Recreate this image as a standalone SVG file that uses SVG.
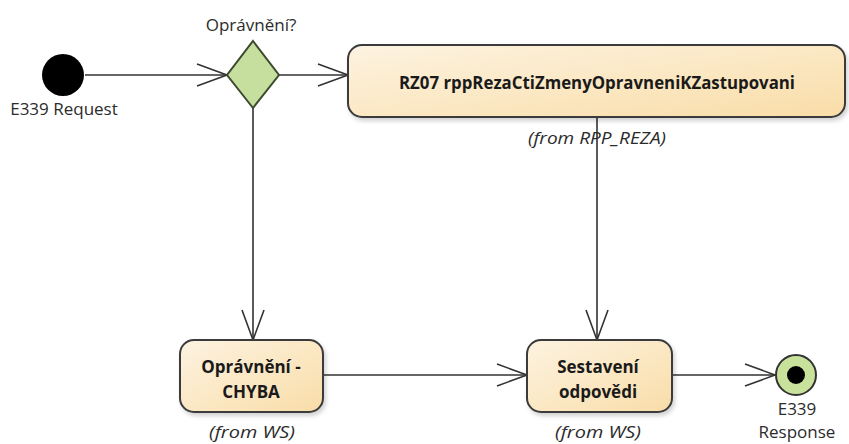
<svg xmlns="http://www.w3.org/2000/svg" width="849" height="444" viewBox="0 0 849 444">
<defs>
<linearGradient id="actFill" x1="0" y1="0" x2="1" y2="1">
<stop offset="0" stop-color="#fdf3e1"/>
<stop offset="1" stop-color="#f9dda8"/>
</linearGradient>
<filter id="shadow" x="-10%" y="-10%" width="130%" height="140%">
<feDropShadow dx="2" dy="3" stdDeviation="2" flood-color="#000" flood-opacity="0.18"/>
</filter>
<marker id="open" viewBox="0 0 32 24" refX="31" refY="12" markerWidth="32" markerHeight="24" markerUnits="userSpaceOnUse" orient="auto">
<path d="M1,1 L31,12 L1,23" fill="none" stroke="#333" stroke-width="1.6"/>
</marker>
<style>
.act{fill:url(#actFill);stroke:#3a3a3a;stroke-width:2;filter:url(#shadow)}
.lbl{font-family:"Open Sans","Noto Sans",sans-serif;font-size:17px;fill:#2b2b2b;text-anchor:middle}
.bold{font-family:"Open Sans","Noto Sans",sans-serif;font-size:17px;font-weight:bold;fill:#1a1a1a;text-anchor:middle}
.from{font-family:"Open Sans","Noto Sans",sans-serif;font-size:17px;font-style:italic;fill:#2b2b2b;text-anchor:middle}
.edge{fill:none;stroke:#333;stroke-width:1.6;marker-end:url(#open)}
</style>
</defs>
<rect width="849" height="444" fill="#fff"/>
<g id="connectors">
<path class="edge" d="M85,75 H227"/>
<path class="edge" d="M279,75 H348"/>
<path class="edge" d="M253,108 V340"/>
<path class="edge" d="M597,117 V340"/>
<path class="edge" d="M323,375 H527"/>
<path class="edge" d="M672,375 H775"/>
</g>
<g id="start">
<circle cx="63" cy="75" r="21" fill="#000"/>
<text class="lbl" x="64" y="115">E339 Request</text>
</g>
<g id="decision">
<polygon points="253,41 279,75 253,108 227,75" fill="#c6df9e" stroke="#3d4a2d" stroke-width="2"/>
<text class="lbl" x="251" y="31">Oprávnění?</text>
</g>
<g id="rz07">
<rect class="act" x="348" y="45" width="497" height="72" rx="14"/>
<text class="bold" x="597" y="89" textLength="396" lengthAdjust="spacingAndGlyphs">RZ07 rppRezaCtiZmenyOpravneniKZastupovani</text>
<text class="from" x="597" y="144" textLength="138" lengthAdjust="spacingAndGlyphs">(from RPP_REZA)</text>
</g>
<g id="chyba">
<rect class="act" x="180" y="340" width="143" height="72" rx="14"/>
<text class="bold" x="251" y="373">Oprávnění -</text>
<text class="bold" x="251" y="398">CHYBA</text>
<text class="from" x="252" y="438" textLength="86" lengthAdjust="spacingAndGlyphs">(from WS)</text>
</g>
<g id="sestaveni">
<rect class="act" x="527" y="340" width="145" height="72" rx="14"/>
<text class="bold" x="598" y="373">Sestavení</text>
<text class="bold" x="598" y="398">odpovědi</text>
<text class="from" x="598" y="438" textLength="86" lengthAdjust="spacingAndGlyphs">(from WS)</text>
</g>
<g id="end">
<circle cx="796" cy="375" r="20" fill="#c9e29b" stroke="#333" stroke-width="2"/>
<circle cx="796" cy="375" r="9" fill="#000"/>
<text class="lbl" x="797" y="415">E339</text>
<text class="lbl" x="797" y="438">Response</text>
</g>
</svg>
